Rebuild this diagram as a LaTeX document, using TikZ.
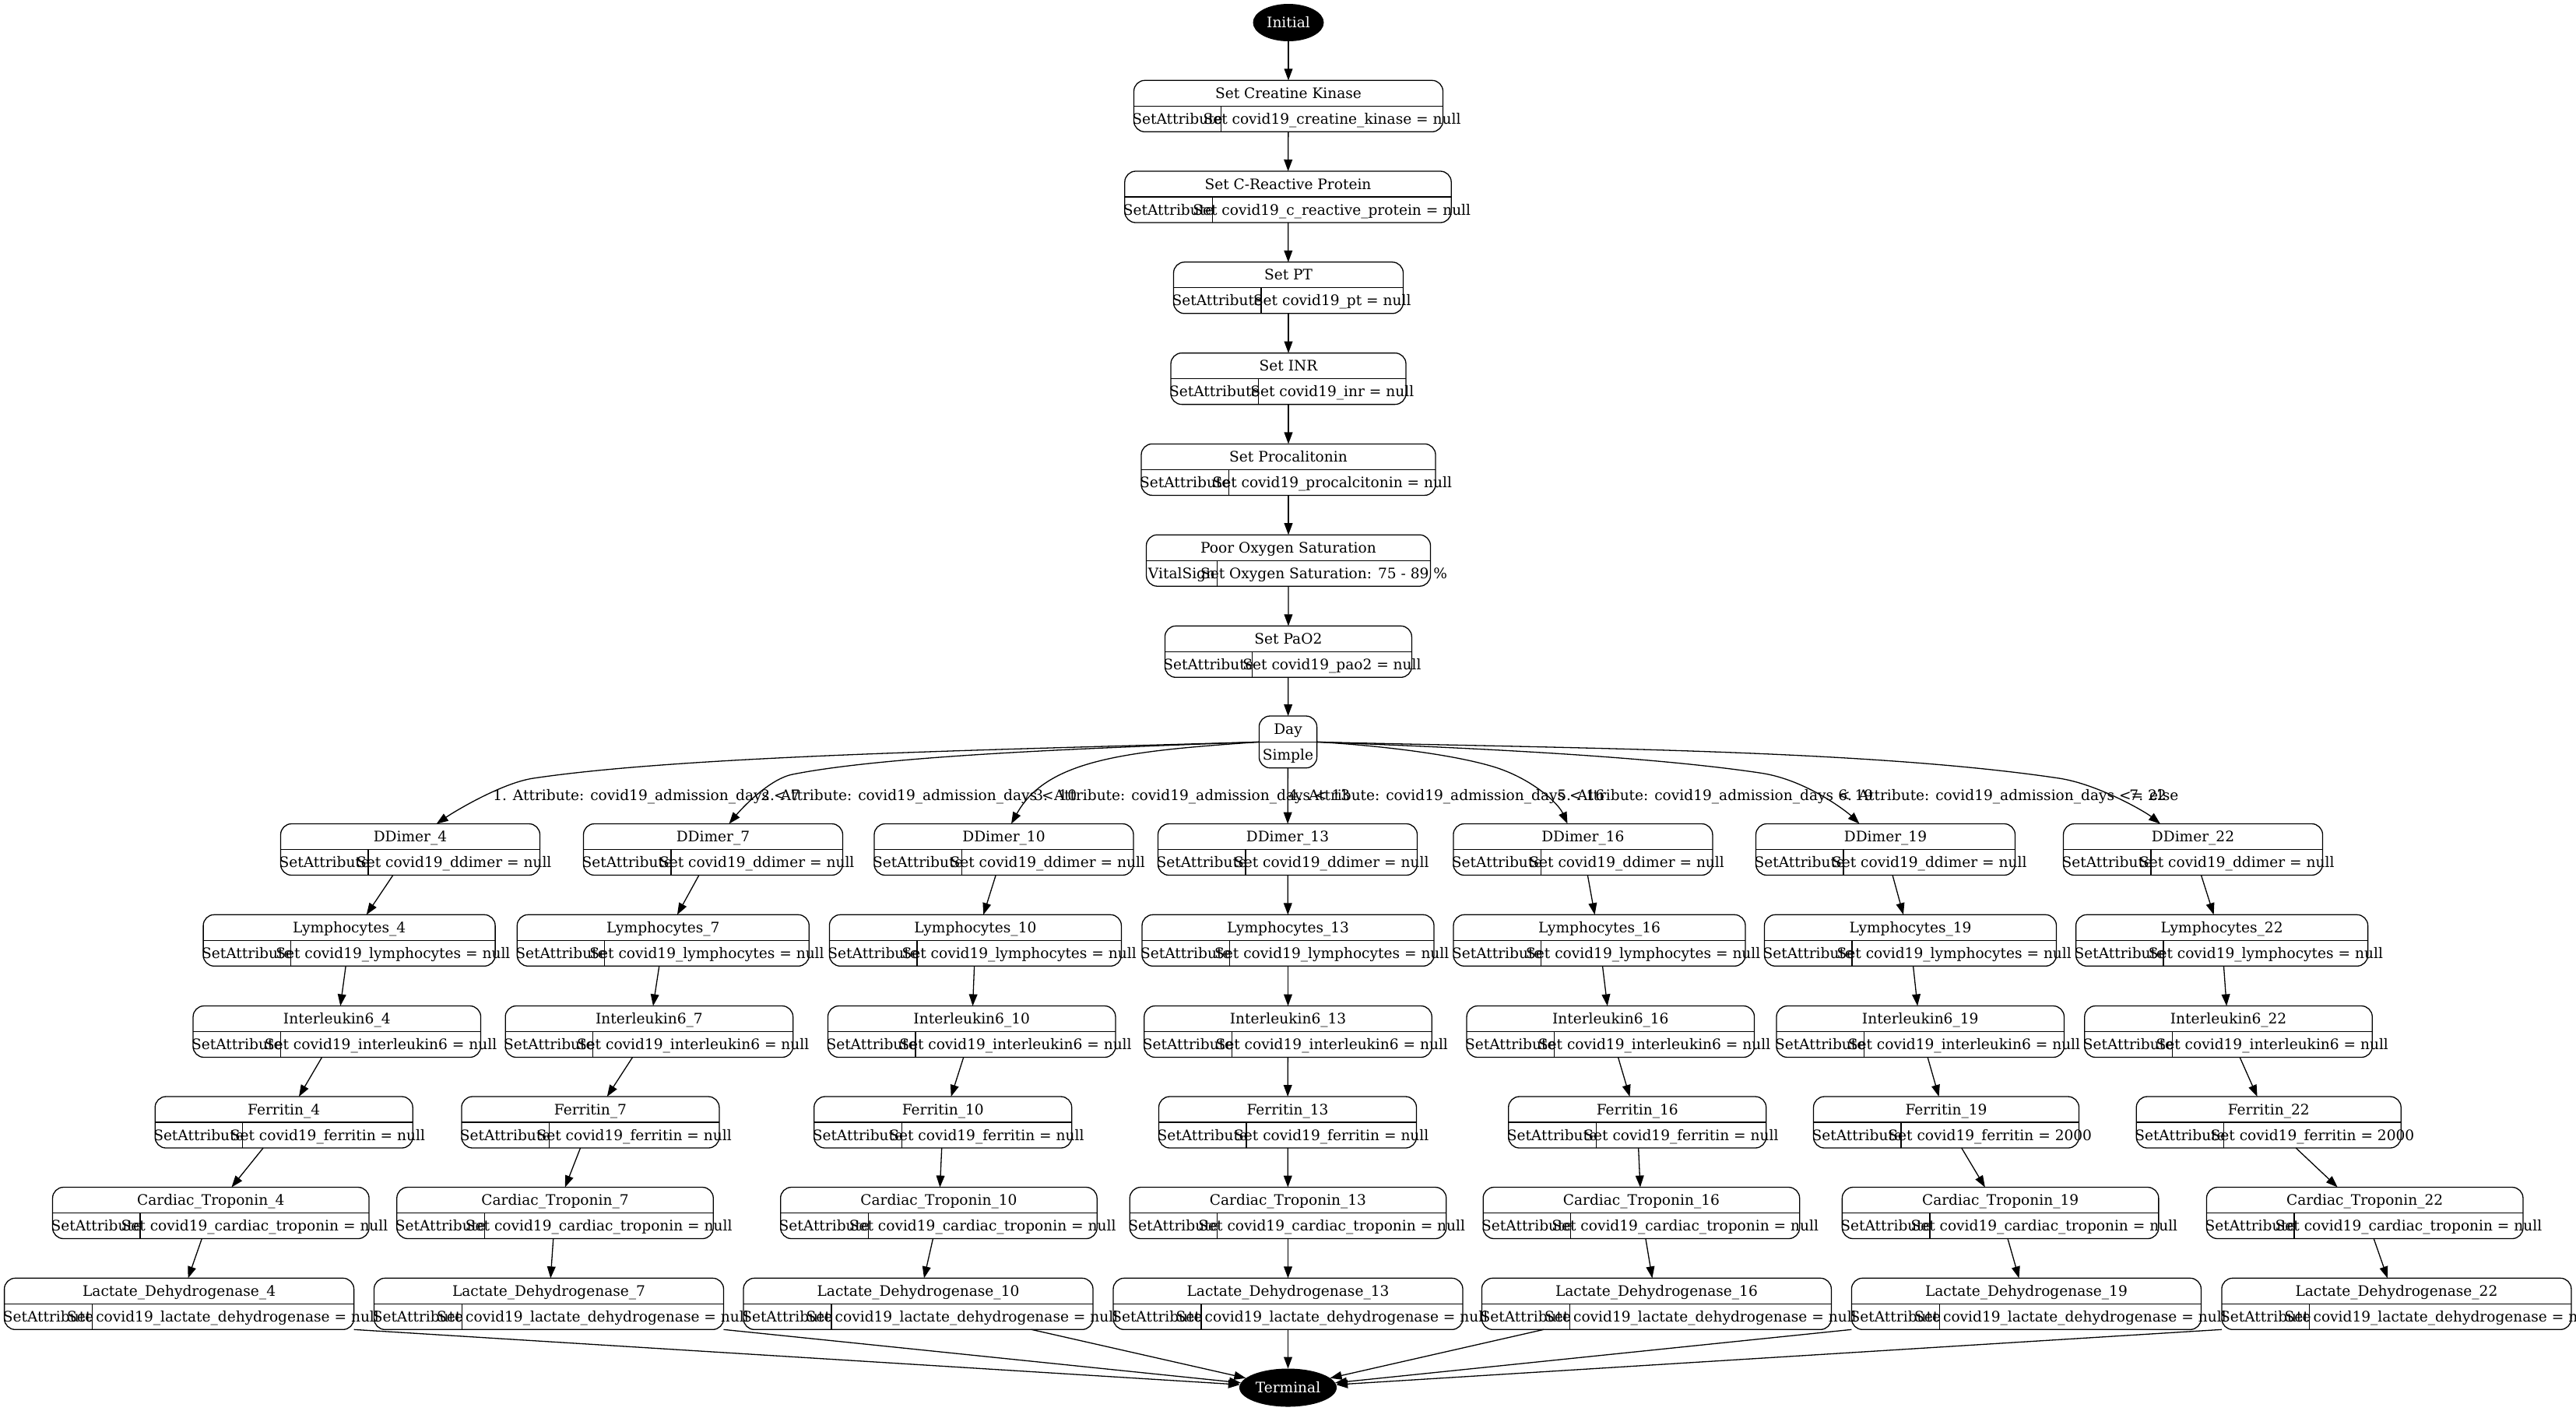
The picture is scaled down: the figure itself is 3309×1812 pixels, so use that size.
\documentclass[tikz,border=0pt]{standalone}
\usepackage{fontspec}
\setmainfont{DejaVu Serif}
\usetikzlibrary{shapes.geometric,arrows.meta,calc}
\tikzset{
 recbox/.style={draw=black, line width=0.65pt, rounded corners=7pt, minimum height=33pt, inner sep=0pt, outer sep=0pt},
 divline/.style={line width=0.65pt},
 txt/.style={inner sep=0pt, anchor=base},
 lbl/.style={inner sep=0pt, anchor=base west},
 conn/.style={line width=0.65pt, -{Triangle[length=7.5pt,width=5.4pt]}},
 blackoval/.style={ellipse, fill=black, text=white, inner sep=0pt, outer sep=0pt},
}
% #1 name, #2 cx, #3 top, #4 width, #5 title, #6 left, #7 right, #8 left cell width
\newcommand{\recnode}[8]{%
 \pgfmathsetmacro{\rcL}{#2-#4/2}%
 \pgfmathsetmacro{\rcD}{\rcL+#8}%
 \pgfmathsetmacro{\rcM}{#3+33}%
 \pgfmathsetmacro{\rcB}{#3+66}%
 \pgfmathsetmacro{\rcT}{#3+23}%
 \pgfmathsetmacro{\rcS}{#3+56}%
 \pgfmathsetmacro{\rcLC}{(\rcL+\rcD)/2}%
 \pgfmathsetmacro{\rcRC}{(\rcD+#2+#4/2)/2}%
 \node[recbox, minimum width={#4*0.5pt}] (#1) at (#2,\rcM) {};
 \draw[divline] (#1.west) -- (#1.east);
 \draw[divline] (\rcD,\rcM) -- (\rcD,\rcB);
 \node[txt] (#1-t) at (#2,\rcT) {#5};
 \node[txt] (#1-l) at (\rcLC,\rcS) {#6};
 \node[txt] (#1-r) at (\rcRC,\rcS) {#7};
}
\begin{document}
\begin{tikzpicture}[x=0.5pt,y=-0.5pt,font=\fontsize{9.29}{11}\selectfont]
\useasboundingbox (0,0) rectangle (3309,1812);

% top chain
\node[blackoval, minimum width=45.5pt, minimum height=24pt] (init) at (1655,29) {Initial};
\recnode{ck}{1655}{103.3}{397}{Set Creatine Kinase}{SetAttribute}{Set covid19\_creatine\_kinase = null}{112}
\recnode{crp}{1654.5}{220}{419.4}{Set C-Reactive Protein}{SetAttribute}{Set covid19\_c\_reactive\_protein = null}{112.5}
\recnode{pt}{1655}{336.8}{295}{Set PT}{SetAttribute}{Set covid19\_pt = null}{112.5}
\recnode{inr}{1655}{453.6}{302}{Set INR}{SetAttribute}{Set covid19\_inr = null}{112.5}
\recnode{pct}{1655}{570.4}{378}{Set Procalitonin}{SetAttribute}{Set covid19\_procalcitonin = null}{112.5}
\recnode{oxy}{1655}{687.2}{365}{Poor Oxygen Saturation}{VitalSign}{Set Oxygen Saturation: 75 - 89 \%}{91}
\recnode{pao}{1654.9}{804.3}{317}{Set PaO2}{SetAttribute}{Set covid19\_pao2 = null}{112.2}

\node[recbox, minimum width=37.1pt, minimum height=33.35pt] (day) at (1654.5,953.35) {};
\draw[divline] (day.west) -- (day.east);
\node[txt] (day-t) at (1654.5,943) {Day};
\node[txt] (day-b) at (1654.5,976.3) {Simple};

\draw[conn] (init) -- (ck);
\draw[conn] (ck) -- (crp);
\draw[conn] (crp) -- (pt);
\draw[conn] (pt) -- (inr);
\draw[conn] (inr) -- (pct);
\draw[conn] (pct) -- (oxy);
\draw[conn] (oxy) -- (pao);
\draw[conn] (pao) -- (day);

% DDimer row
\recnode{dd4}{527}{1058.5}{333}{DDimer\_4}{SetAttribute}{Set covid19\_ddimer = null}{112.5}
\recnode{dd7}{916}{1058.5}{333}{DDimer\_7}{SetAttribute}{Set covid19\_ddimer = null}{112.5}
\recnode{dd10}{1289.5}{1058.5}{333}{DDimer\_10}{SetAttribute}{Set covid19\_ddimer = null}{112.5}
\recnode{dd13}{1654}{1058.5}{333}{DDimer\_13}{SetAttribute}{Set covid19\_ddimer = null}{112.5}
\recnode{dd16}{2033.4}{1058.5}{333}{DDimer\_16}{SetAttribute}{Set covid19\_ddimer = null}{112.5}
\recnode{dd19}{2422}{1058.5}{333}{DDimer\_19}{SetAttribute}{Set covid19\_ddimer = null}{112.5}
\recnode{dd22}{2817}{1058.5}{333}{DDimer\_22}{SetAttribute}{Set covid19\_ddimer = null}{112.5}

% Lymphocytes row
\recnode{ly4}{448.6}{1175.3}{375}{Lymphocytes\_4}{SetAttribute}{Set covid19\_lymphocytes = null}{112.5}
\recnode{ly7}{851.8}{1175.3}{375}{Lymphocytes\_7}{SetAttribute}{Set covid19\_lymphocytes = null}{112.5}
\recnode{ly10}{1252.9}{1175.3}{375}{Lymphocytes\_10}{SetAttribute}{Set covid19\_lymphocytes = null}{112.5}
\recnode{ly13}{1654.5}{1175.3}{375}{Lymphocytes\_13}{SetAttribute}{Set covid19\_lymphocytes = null}{112.5}
\recnode{ly16}{2054.5}{1175.3}{375}{Lymphocytes\_16}{SetAttribute}{Set covid19\_lymphocytes = null}{112.5}
\recnode{ly19}{2454}{1175.3}{375}{Lymphocytes\_19}{SetAttribute}{Set covid19\_lymphocytes = null}{112.5}
\recnode{ly22}{2854.1}{1175.3}{375}{Lymphocytes\_22}{SetAttribute}{Set covid19\_lymphocytes = null}{112.5}

% Interleukin row
\recnode{il4}{432.8}{1292.5}{369.5}{Interleukin6\_4}{SetAttribute}{Set covid19\_interleukin6 = null}{112.5}
\recnode{il7}{833.9}{1292.5}{369.5}{Interleukin6\_7}{SetAttribute}{Set covid19\_interleukin6 = null}{112.5}
\recnode{il10}{1248.2}{1292.5}{369.5}{Interleukin6\_10}{SetAttribute}{Set covid19\_interleukin6 = null}{112.5}
\recnode{il13}{1654.5}{1292.5}{369.5}{Interleukin6\_13}{SetAttribute}{Set covid19\_interleukin6 = null}{112.5}
\recnode{il16}{2068.8}{1292.5}{369.5}{Interleukin6\_16}{SetAttribute}{Set covid19\_interleukin6 = null}{112.5}
\recnode{il19}{2466.7}{1292.5}{369.5}{Interleukin6\_19}{SetAttribute}{Set covid19\_interleukin6 = null}{112.5}
\recnode{il22}{2862.5}{1292.5}{369.5}{Interleukin6\_22}{SetAttribute}{Set covid19\_interleukin6 = null}{112.5}

% Ferritin row
\recnode{fe4}{364.7}{1409}{331}{Ferritin\_4}{SetAttribute}{Set covid19\_ferritin = null}{112.5}
\recnode{fe7}{758.4}{1409}{331}{Ferritin\_7}{SetAttribute}{Set covid19\_ferritin = null}{112.5}
\recnode{fe10}{1211.2}{1409}{331}{Ferritin\_10}{SetAttribute}{Set covid19\_ferritin = null}{112.5}
\recnode{fe13}{1654}{1409}{331}{Ferritin\_13}{SetAttribute}{Set covid19\_ferritin = null}{112.5}
\recnode{fe16}{2103.2}{1409}{331}{Ferritin\_16}{SetAttribute}{Set covid19\_ferritin = null}{112.5}
\recnode{fe19}{2500}{1409}{341}{Ferritin\_19}{SetAttribute}{Set covid19\_ferritin = 2000}{112.5}
\recnode{fe22}{2914.2}{1409}{340}{Ferritin\_22}{SetAttribute}{Set covid19\_ferritin = 2000}{112.5}

% Cardiac row
\recnode{ct4}{270.8}{1525.5}{406.5}{Cardiac\_Troponin\_4}{SetAttribute}{Set covid19\_cardiac\_troponin = null}{112.5}
\recnode{ct7}{713}{1525.5}{406.5}{Cardiac\_Troponin\_7}{SetAttribute}{Set covid19\_cardiac\_troponin = null}{112.5}
\recnode{ct10}{1205.9}{1525.5}{406.5}{Cardiac\_Troponin\_10}{SetAttribute}{Set covid19\_cardiac\_troponin = null}{112.5}
\recnode{ct13}{1654.5}{1525.5}{406.5}{Cardiac\_Troponin\_13}{SetAttribute}{Set covid19\_cardiac\_troponin = null}{112.5}
\recnode{ct16}{2108.4}{1525.5}{406.5}{Cardiac\_Troponin\_16}{SetAttribute}{Set covid19\_cardiac\_troponin = null}{112.5}
\recnode{ct19}{2569.6}{1525.5}{406.5}{Cardiac\_Troponin\_19}{SetAttribute}{Set covid19\_cardiac\_troponin = null}{112.5}
\recnode{ct22}{3037.7}{1525.5}{406.5}{Cardiac\_Troponin\_22}{SetAttribute}{Set covid19\_cardiac\_troponin = null}{112.5}

% Lactate row
\recnode{ld4}{230.1}{1642.3}{449}{Lactate\_Dehydrogenase\_4}{SetAttribute}{Set covid19\_lactate\_dehydrogenase = null}{112.9}
\recnode{ld7}{705}{1642.3}{449}{Lactate\_Dehydrogenase\_7}{SetAttribute}{Set covid19\_lactate\_dehydrogenase = null}{112.9}
\recnode{ld10}{1179.5}{1642.3}{449}{Lactate\_Dehydrogenase\_10}{SetAttribute}{Set covid19\_lactate\_dehydrogenase = null}{112.9}
\recnode{ld13}{1654.5}{1642.3}{449}{Lactate\_Dehydrogenase\_13}{SetAttribute}{Set covid19\_lactate\_dehydrogenase = null}{112.9}
\recnode{ld16}{2127.9}{1642.3}{449}{Lactate\_Dehydrogenase\_16}{SetAttribute}{Set covid19\_lactate\_dehydrogenase = null}{112.9}
\recnode{ld19}{2602.9}{1642.3}{449}{Lactate\_Dehydrogenase\_19}{SetAttribute}{Set covid19\_lactate\_dehydrogenase = null}{112.9}
\recnode{ld22}{3078.4}{1642.3}{449}{Lactate\_Dehydrogenase\_22}{SetAttribute}{Set covid19\_lactate\_dehydrogenase = null}{112.9}

\node[blackoval, minimum width=62.5pt, minimum height=24.5pt] (term) at (1654.5,1783) {Terminal};

% Day fan-out
\draw[conn] (day.west) .. controls (1297.4,963) and (882.8,970.4) .. (685,1000) .. controls (645.4,1005.9) and (585.6,1041.5) .. ($(dd4.north)+(33.7,0)$);
\draw[conn] (day.west) .. controls (1400,961) and (1138,971) .. (1018,995) .. controls (988,1001) and (952.5,1039) .. ($(dd7.north)+(20.5,0)$);
\draw[conn] (day.west) .. controls (1450,965) and (1345,975) .. ($(dd10.north)+(9.5,0)$);
\draw[conn] (day) -- (dd13);
\draw[conn] (day.east) .. controls (1760,957) and (1860.4,967.8) .. (1917.9,985) .. controls (1965.8,999.4) and (2001.2,1031) .. ($(dd16.north)+(-19.9,0)$);
\draw[conn] (day.east) .. controls (1881.6,960.7) and (2113.9,971.1) .. (2262.2,993.3) .. controls (2321.5,1002.2) and (2374.1,1044.5) .. ($(dd19.north)+(-33.5,0)$);
\draw[conn] (day.east) .. controls (2011.6,961.4) and (2397.7,963) .. (2644.9,1000) .. controls (2694.4,1007.4) and (2755.3,1042.8) .. ($(dd22.north)+(-42,0)$);

% edge labels
\node[lbl] (lab1) at (633,1028) {1. Attribute: covid19\_admission\_days < 7};
\node[lbl] (lab2) at (977,1028) {2. Attribute: covid19\_admission\_days < 10};
\node[lbl] (lab3) at (1328,1028) {3. Attribute: covid19\_admission\_days < 13};
\node[lbl] (lab4) at (1655,1028) {4. Attribute: covid19\_admission\_days < 16};
\node[lbl] (lab5) at (2000,1028) {5. Attribute: covid19\_admission\_days < 19};
\node[lbl] (lab6) at (2361,1028) {6. Attribute: covid19\_admission\_days <= 22};
\node[lbl] (lab7) at (2735,1028) {7. else};

% column chains
\foreach \c in {4,7,10,13,16,19,22}{
 \draw[conn] (dd\c) -- (ly\c);
 \draw[conn] (ly\c) -- (il\c);
 \draw[conn] (il\c) -- (fe\c);
 \draw[conn] (fe\c) -- (ct\c);
 \draw[conn] (ct\c) -- (ld\c);
}

% to terminal
\draw[conn] (ld4.south east) -- (term);
\draw[conn] (ld7.south east) -- (term);
\draw[conn] (ld10) -- (term);
\draw[conn] (ld13) -- (term);
\draw[conn] (ld16) -- (term);
\draw[conn] (ld19.south west) -- (term);
\draw[conn] (ld22.south west) -- (term);
\end{tikzpicture}
\end{document}
